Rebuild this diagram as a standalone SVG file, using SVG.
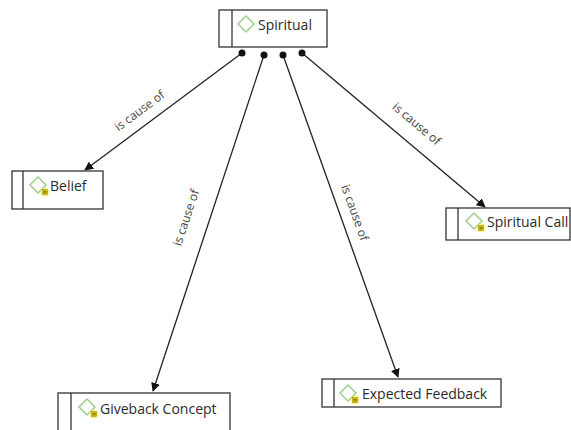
<svg xmlns="http://www.w3.org/2000/svg" width="571" height="430" viewBox="0 0 571 430">
<defs>
<style>
.box{fill:#fff;stroke:#333;stroke-width:1.3}
.div{stroke:#333;stroke-width:1.3}
.dia{fill:none;stroke:#9ccf8c;stroke-width:1.5}
.lbl{font-family:"Open Sans","Noto Sans",sans-serif;font-size:14px;fill:#2a2a2a}
.el{font-family:"Open Sans","Noto Sans",sans-serif;font-size:12px;fill:#444}
.con{stroke:#222;stroke-width:1.3;fill:none;marker-end:url(#arr)}
.dot{fill:#111}
.glow{fill:#f4ef4a;opacity:0.65}
.sq{fill:#e2cc00;stroke:#8a7a00;stroke-width:0.5}
</style>
<marker id="arr" viewBox="0 0 10 10" refX="9" refY="5" markerWidth="9" markerHeight="9" markerUnits="userSpaceOnUse" orient="auto">
<path d="M0,0 L10,5 L0,10 z" fill="#111"/>
</marker>
<g id="sticker">
<circle cx="0" cy="0" r="4.5" class="glow"/>
<rect x="-2.3" y="-2.3" width="4.6" height="4.6" class="sq"/>
<line x1="-1.6" y1="-0.6" x2="1.6" y2="-0.6" stroke="#333" stroke-width="0.6"/>
<line x1="-1.6" y1="0.9" x2="1.6" y2="0.9" stroke="#333" stroke-width="0.6"/>
</g>
</defs>
<rect width="571" height="430" fill="#fff"/>
<g id="connectors">
<line class="con" x1="242" y1="53" x2="85" y2="170"/>
<line class="con" x1="264" y1="55" x2="153" y2="391"/>
<line class="con" x1="283" y1="55" x2="398" y2="377"/>
<line class="con" x1="302" y1="53" x2="485" y2="207"/>
<circle class="dot" cx="242" cy="53" r="3.5"/>
<circle class="dot" cx="264" cy="55" r="3.5"/>
<circle class="dot" cx="283" cy="55" r="3.5"/>
<circle class="dot" cx="302" cy="53" r="3.5"/>
<text class="el" text-anchor="middle" transform="translate(142,114) rotate(-36.7)">is cause of</text>
<text class="el" text-anchor="middle" transform="translate(190,219) rotate(-71.6)">is cause of</text>
<text class="el" text-anchor="middle" transform="translate(351,214) rotate(70.2)">is cause of</text>
<text class="el" text-anchor="middle" transform="translate(414,127) rotate(40)">is cause of</text>
</g>
<g id="node-spiritual">
<rect class="box" x="219" y="10" width="108" height="37"/>
<line class="div" x1="232" y1="10" x2="232" y2="47"/>
<path class="dia" d="M246,16 L254,24 L246,32 L238,24 Z"/>
<text class="lbl" x="258" y="30">Spiritual</text>
</g>
<g id="node-belief">
<rect class="box" x="12" y="171" width="91" height="38"/>
<line class="div" x1="23" y1="171" x2="23" y2="209"/>
<path class="dia" d="M38,177 L46,185 L38,193 L30,185 Z"/>
<use href="#sticker" x="45" y="192"/>
<text class="lbl" x="50" y="191">Belief</text>
</g>
<g id="node-spiritual-call">
<rect class="box" x="446" y="208" width="124" height="32"/>
<line class="div" x1="458" y1="208" x2="458" y2="240"/>
<path class="dia" d="M474,213 L482,221 L474,229 L466,221 Z"/>
<use href="#sticker" x="481" y="228"/>
<text class="lbl" x="487" y="227">Spiritual Call</text>
</g>
<g id="node-giveback">
<rect class="box" x="58" y="393" width="172" height="45"/>
<line class="div" x1="71" y1="393" x2="71" y2="438"/>
<path class="dia" d="M87,399 L95,407 L87,415 L79,407 Z"/>
<use href="#sticker" x="94" y="414"/>
<text class="lbl" x="100" y="414">Giveback Concept</text>
</g>
<g id="node-expected">
<rect class="box" x="322" y="379" width="179" height="28"/>
<line class="div" x1="334" y1="379" x2="334" y2="407"/>
<path class="dia" d="M348,385 L356,393 L348,401 L340,393 Z"/>
<use href="#sticker" x="355" y="400"/>
<text class="lbl" x="362" y="399">Expected Feedback</text>
</g>
</svg>
